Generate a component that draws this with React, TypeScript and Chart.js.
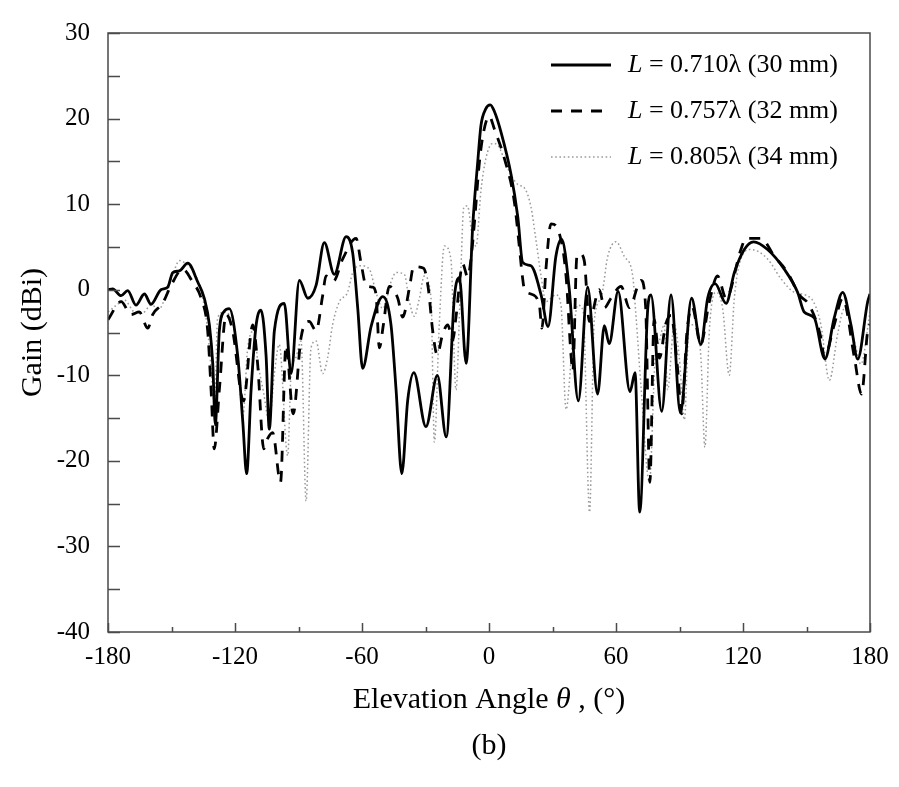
import React, { useEffect, useRef } from "react";
import { Chart, registerables } from "chart.js";

Chart.register(...registerables);

// ---------- data ----------
const solidAngle = [
  -180, -177.8, -173.8, -170.7, -166.8, -162.8, -159.7, -155, -151.8, -149.4, -146.3, -142.3, -137.6, -134.5,
  -132.1, -130.5, -129.3, -127.4, -125, -122.7, -118.7, -116.3, -114.5, -112.4, -110, -107.7, -105.3, -103.8,
  -101.4, -96.7, -93.5, -89.6, -85.6, -81.7, -77.8, -73.1, -67.5, -64.4, -62, -59.7, -55.7, -50.2, -46.3,
  -43.9, -41.2, -38.4, -35.5, -29.8, -24.4, -20.2, -16.4, -14, -10.8, -7.7, -5.3, -3.8, -1.6, 0.6, 2.6, 5.7,
  10.4, 13.6, 15.9, 19.8, 24.6, 27.9, 31.6, 34.3, 37.9, 42.2, 46.6, 51.3, 54.5, 56.8, 61, 66.6, 69, 71.2, 75,
  76.5, 81.6, 86, 90.4, 95.7, 100.1, 103.3, 106.8, 112, 115.9, 120.6, 125, 131.6, 139.5, 145.8, 148.9, 153.7,
  158.7, 163.1, 167.1, 171, 174.2, 178.9, 180,
];
const solidGain = [
  0, 0.1, -0.7, -0.1, -1.8, -0.5, -1.7, 0, 0.3, 2.0, 2.2, 3.1, 0.9, -1.0,
  -4.1, -8.7, -15.8, -4.8, -2.5, -2.2, -7.8, -15.5, -21.5, -11.7, -4.1, -2.4, -7.8, -16.3,
  -4.8, -1.6, -9.8, 1.1, -1.0, 0.5, 5.5, 1.8, 6.2, 4.3, -2.2, -9.2, -4.3, -0.8, -4.1,
  -11.7, -21.5, -12.9, -9.7, -16.0, -10.0, -17.2, -1.0, 1.4, -8.6, 7.4, 15, 19.2, 21.1, 21.6, 20.8, 18.4,
  13.5, 8.5, 3.2, 2.8, -0.6, -4.3, 3.9, 5.9, 0.1, -13.0, 0.3, -12.2, -4.2, -6.3, -0.2, -11.9, -9.7, -26, -2.2,
  -0.6, -14.2, -0.6, -14.4, -1.0, -6.4, -1, 0.7, -1.6, 2.0, 4.7, 5.6, 4.7, 2.4, -0.3, -2.6, -3.3,
  -8.1, -3.3, -0.3, -4.1, -8.1, -1.4, -0.5,
];

const dashedAngle = [
  -180, -173.8, -169.1, -165.2, -161.2, -158.9, -154.2, -150.2, -144.7, -140, -136, -132.9, -131.3, -129.8,
  -127.4, -124.2, -121.1, -116, -111.6, -109.3, -106.4, -104.6, -102.2, -98.5, -95.9, -92.5, -88.8, -85,
  -81.7, -78.6, -77, -73.5, -69.1, -62.8, -60.5, -58.1, -55, -53.4, -51.8, -49.9, -47.1, -43.1, -40.8, -37.6,
  -35.6, -30.9, -28.7, -26.6, -24.5, -21.9, -19.5, -17.1, -15.6, -12.4, -10.1, -8.5, -6.9, -4.5, -2.5, 0.1,
  2.5, 7.2, 11.9, 14.3, 15.4, 16.7, 19.8, 23.8, 25, 26.9, 29.3, 33.2, 36.4, 38.7, 39.6, 41.5, 43, 45, 47.4,
  52.1, 54.5, 57.6, 62.4, 66.3, 71.8, 74, 76, 78, 80.5, 83.5, 86, 89, 91, 93.5, 96, 100, 104, 108, 112, 119,
  121.4, 128.5, 134.8, 141.1, 146.6, 151.3, 156.8, 158.4, 163.1, 167.1, 172.6, 176, 178.9, 180,
];
const dashedGain = [
  -3.5, -1.4, -2.9, -2.6, -4.5, -2.9, -1.6, 0.5, 2.4, 0.9, -1, -4.8, -11.7, -18.6,
  -11.7, -2.9, -4.8, -13, -4.1, -8.7, -18.6, -17.4, -16.7, -22.5, -6.5, -14.5, -5.6, -3.7,
  -4.8, -0.7, 1.6, 1.0, 3.6, 6.0, 3.2, 0.5, 0.3, -0.5, -6.8, -4.1, 0.4, -1, -3.2, 0.2,
  2.7, 2.5, 0.2, -4.8, -7.6, -5.2, -4.1, -5.9, -3.2, 3.0, 1.5, 3.6, 7.8, 15, 18.5, 20.3,
  18.8, 15.4, 10.4, 5.1, 2.4, 0.1, -0.5, -1.8, -4.5, 2.4, 7.7, 6.6, 1.6, -7.5, -9.5, 3.8, 4.2, 3.4, -3.7,
  0, -2.1, -1, 0.4, -2.1, 1.1, -2, -22.5, -3.5, -8, -4, -3, -9, -14.5, -5, -2, -6.4, -1.5, 1.6, -1, 4.7,
  6, 6, 3.9, 2, -0.6, -1.8, -5.6, -7.9, -4.1, -1, -7.9, -12.2, -4.8, -4,
];

const dottedAngle = [
  -180, -176, -172.3, -167.5, -163.6, -159.7, -155.7, -152.6, -149, -146.3, -142, -139.2, -135.2, -132.9,
  -130.5, -129.7, -128.2, -125, -120.3, -117.9, -116.3, -114, -110.9, -109.3, -106.5, -103.8, -101.4, -99.1,
  -95.1, -93.5, -91.2, -88.8, -86.4, -84.1, -81.7, -78.6, -76.2, -73.9, -70.7, -66.8, -64.4, -60.5, -56.5,
  -53.4, -50.2, -46.3, -43.9, -40, -37.6, -35.3, -32.9, -30.6, -27.4, -25.8, -23.5, -21.1, -18, -15.6, -13.2,
  -12, -10.2, -7.7, -6.1, -3.8, -1.4, 1.7, 4.1, 8.8, 13.6, 16.7, 19.8, 22.2, 24.6, 26.9, 31.6, 34, 36.4, 39.5,
  41.9, 44.5, 47.5, 49.7, 52.9, 56.1, 60, 63.9, 67.9, 69.4, 71.8, 75.8, 78.5, 80.5, 82.8, 84.4, 87.5, 89.9,
  92.3, 94.6, 97.8, 100.1, 102, 104.1, 107.2, 110.4, 113.5, 115.9, 119, 123.8, 131.6, 137.9, 144.2, 152.1,
  156.8, 160.8, 164.7, 167.9, 172.6, 175.7, 180,
];
const dottedGain = [
  -2.6, -1.8, -1.2, -2.6, -2.7, -1.8, -2.2, -0.6, 2, 3.4, 2.8, 2.0, -1, -4.8,
  -11.7, -14, -3.3, -2.6, -4.8, -9.8, -14.8, -6.8, -4.8, -8.3, -12, -15.5, -9.8, -6.4,
  -19.4, -9.8, -7.9, -6, -24.7, -6.8, -6, -9.8, -7.9, -4.1, -1.4, -0.3, 2.0, 2.8, 2.4,
  -0.3, -2.2, 0.9, 2, 1.8, -1.4, -3.1, -1, 1.6, -1, -17.8, -4.1, 5.1, 3.6, -11.7, 2.8,
  9.5, 9.8, 5.8, 5.1, 11.6, 15.4, 17.1, 16.9, 14.2, 12.3, 11.9, 9.7, 5.8, 1.6, -1.4, -0.6, -1.8, -14, -6,
  -1.8, -2.5, -26, -3.7, -1, 3.9, 5.6, 3.9, 1.6, -2.9, -11.3, -22.5, -8, -6, -4.1, -11.7, -4.1, -7.9,
  -15.2, -4.1, -4.1, -7.9, -18.4, -4.8, -0.3, -2.2, -10, -1, 3.6, 4.7, 3.6, 1.3, -0.3, -1,
  -4.1, -10.6, -5.2, -2.2, -6, -8.7, -2.6,
];

const seriesLabelRest = [" = 0.710\u03bb (30 mm)", " = 0.757\u03bb (32 mm)", " = 0.805\u03bb (34 mm)"];
const seriesLabelItalic = "L";
const xTickValues = [-180, -120, -60, 0, 60, 120, 180];
const yTickValues = [30, 20, 10, 0, -10, -20, -30, -40];

const SERIF = '"Liberation Serif", "Times New Roman", serif';

const styles = [
  { color: "#000000", width: 2.8, dash: [] as number[] },
  { color: "#000000", width: 2.8, dash: [11, 9] },
  { color: "#9a9a9a", width: 1.5, dash: [1.6, 2.6] },
];

function toPoints(a: number[], g: number[]) {
  return a.map((x, i) => ({ x, y: g[i] }));
}

const decorPlugin = {
  id: "decor",
  afterDraw(chart: any) {
    const { ctx, chartArea } = chart;
    const { left, top, right, bottom } = chartArea;
    const xs = chart.scales.x;
    const ys = chart.scales.y;
    ctx.save();
    // frame
    ctx.strokeStyle = "#4a4a4a";
    ctx.lineWidth = 1.5;
    ctx.setLineDash([]);
    ctx.strokeRect(left, top, right - left, bottom - top);
    // y ticks (inward)
    ctx.beginPath();
    for (let v = -40; v <= 30; v += 5) {
      const py = Math.round(ys.getPixelForValue(v)) + 0.5;
      ctx.moveTo(left, py);
      ctx.lineTo(left + 12, py);
    }
    // x ticks (inward)
    for (let a = -180; a <= 180; a += 30) {
      const px = Math.round(xs.getPixelForValue(a)) + 0.5;
      const len = a % 60 === 0 ? 9 : 5;
      ctx.moveTo(px, bottom);
      ctx.lineTo(px, bottom - len);
    }
    ctx.stroke();

    // legend
    const rowsY = [65, 111, 157];
    ctx.textBaseline = "middle";
    ctx.textAlign = "left";
    for (let i = 0; i < 3; i++) {
      const s = styles[i];
      ctx.beginPath();
      ctx.strokeStyle = s.color;
      ctx.lineWidth = s.width;
      ctx.setLineDash(s.dash);
      ctx.moveTo(551, rowsY[i]);
      ctx.lineTo(611, rowsY[i]);
      ctx.stroke();
      ctx.setLineDash([]);
      ctx.fillStyle = "#000";
      ctx.font = `italic 26px ${SERIF}`;
      ctx.fillText(seriesLabelItalic, 628, rowsY[i]);
      const w = ctx.measureText(seriesLabelItalic).width;
      ctx.font = `26px ${SERIF}`;
      ctx.fillText(seriesLabelRest[i], 628 + w, rowsY[i]);
    }

    // x-axis title with italic theta
    const cx = (left + right) / 2;
    const p1 = "Elevation Angle ";
    const p2 = "\u03b8";
    const p3 = " , (\u00b0)";
    ctx.font = `30px ${SERIF}`;
    const w1 = ctx.measureText(p1).width;
    const w3 = ctx.measureText(p3).width;
    ctx.font = `italic 30px ${SERIF}`;
    const w2 = ctx.measureText(p2).width;
    let x0 = cx - (w1 + w2 + w3) / 2;
    ctx.fillStyle = "#000";
    ctx.font = `30px ${SERIF}`;
    ctx.fillText(p1, x0, 700);
    ctx.font = `italic 30px ${SERIF}`;
    ctx.fillText(p2, x0 + w1, 700);
    ctx.font = `30px ${SERIF}`;
    ctx.fillText(p3, x0 + w1 + w2, 700);

    // (b)
    ctx.textAlign = "center";
    ctx.fillText("(b)", cx, 746);

    // y-axis title
    ctx.save();
    ctx.translate(33, (top + bottom) / 2);
    ctx.rotate(-Math.PI / 2);
    ctx.textAlign = "center";
    ctx.fillText("Gain (dBi)", 0, 0);
    ctx.restore();

    ctx.restore();
  },
};

export default function App() {
  const ref = useRef<HTMLCanvasElement | null>(null);
  useEffect(() => {
    if (!ref.current) return;
    const ds = [
      { a: solidAngle, g: solidGain },
      { a: dashedAngle, g: dashedGain },
      { a: dottedAngle, g: dottedGain },
    ].map((d, i) => ({
      data: toPoints(d.a, d.g),
      showLine: true,
      borderColor: styles[i].color,
      borderWidth: styles[i].width,
      borderDash: styles[i].dash,
      pointRadius: 0,
      fill: false,
      cubicInterpolationMode: "monotone" as const,
    }));
    const chart = new Chart(ref.current, {
      type: "scatter",
      data: { datasets: ds as any },
      options: {
        animation: false,
        responsive: false,
        devicePixelRatio: 1,
        layout: { padding: { top: 19, right: 29, left: 0, bottom: 0 } },
        plugins: { legend: { display: false }, tooltip: { enabled: false } },
        scales: {
          x: {
            type: "linear",
            min: -180,
            max: 180,
            afterFit: (s: any) => {
              s.height = 155;
            },
            afterBuildTicks: (s: any) => {
              s.ticks = xTickValues.map((v) => ({ value: v }));
            },
            grid: { display: false, drawTicks: false },
            border: { display: false },
            ticks: {
              autoSkip: false,
              maxRotation: 0,
              padding: 10,
              color: "#000",
              font: { family: SERIF, size: 25 },
            },
          },
          y: {
            type: "linear",
            min: -40,
            max: 30,
            afterFit: (s: any) => {
              s.width = 108;
            },
            afterBuildTicks: (s: any) => {
              s.ticks = yTickValues.map((v) => ({ value: v }));
            },
            grid: { display: false, drawTicks: false },
            border: { display: false },
            ticks: {
              autoSkip: false,
              padding: 18,
              color: "#000",
              font: { family: SERIF, size: 25 },
            },
          },
        },
      },
      plugins: [decorPlugin],
    });
    return () => chart.destroy();
  }, []);
  return (
    <div style={{ position: "fixed", left: 0, top: 0, width: 899, height: 787, background: "#fff" }}>
      <canvas ref={ref} width={899} height={787} style={{ display: "block" }} />
    </div>
  );
}
